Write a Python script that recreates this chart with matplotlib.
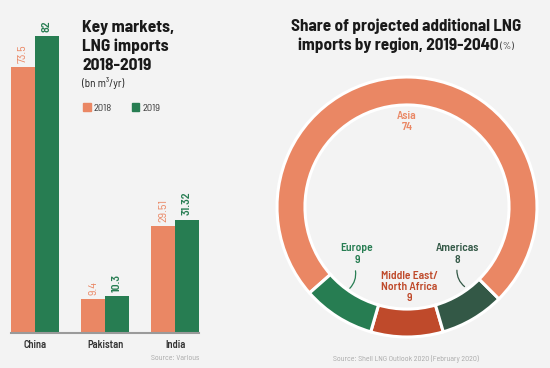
import matplotlib
matplotlib.use('Agg')
import matplotlib.pyplot as plt
import numpy as np
from matplotlib.patches import Patch

# data
countries = ['China', 'Pakistan', 'India']
imports_2018 = [73.5, 9.4, 29.51]
imports_2019 = [82, 10.3, 31.32]
labels_2018 = ['73.5', '9.4', '29.51']
labels_2019 = ['82', '10.3', '31.32']

regions = ['Middle East/\nNorth Africa', 'Americas', 'Asia', 'Europe']
shares = [9, 8, 74, 9]

BG = '#f3f3f3'
ORANGE = '#ea8764'
GREEN = '#277d52'
RED = '#bf4a2b'
DKGREEN = '#335846'
GREY = '#a8a8a8'

plt.rcParams['font.family'] = ['Barlow Semi Condensed', 'DejaVu Sans']

W, H = 550, 368
fig = plt.figure(figsize=(5.5, 3.68), dpi=100, facecolor=BG)

def fx(x):
    return x / W

def fy(y):
    return 1 - y / H

# ---- bar chart (left)
ax = fig.add_axes([fx(11), fy(333), (199 - 11) / W, (333 - 7) / H])
ax.set_facecolor('none')
x = np.arange(len(countries))
w = 0.34
ax.bar(x - w / 2, imports_2018, w, color=ORANGE)
ax.bar(x + w / 2, imports_2019, w, color=GREEN)
for xi, v, l in zip(x, imports_2018, labels_2018):
    ax.annotate(l, (xi - w / 2, v), xytext=(0, 3), textcoords='offset points',
                rotation=90, ha='center', va='bottom', color=ORANGE, fontsize=8.5)
for xi, v, l in zip(x, imports_2019, labels_2019):
    ax.annotate(l, (xi + w / 2, v), xytext=(0, 3), textcoords='offset points',
                rotation=90, ha='center', va='bottom', color=GREEN, fontsize=8.5,
                fontweight='semibold')
ax.set_xlim(-w, len(countries) - 1 + w)
ax.set_ylim(0, 90)
ax.set_xticks(x, countries, fontsize=7.5, fontweight='semibold', color='#333333')
ax.set_yticks([])
ax.tick_params(axis='x', length=0, pad=5)
for s in ['top', 'right', 'left']:
    ax.spines[s].set_visible(False)
ax.spines['bottom'].set_color('#9a9a9a')
ax.spines['bottom'].set_linewidth(1.5)

fig.text(fx(82), fy(20), 'Key markets,\nLNG imports\n2018-2019', ha='left', va='top',
         fontsize=12.5, fontweight='bold', color='#1a1a1a', linespacing=1.3)
fig.text(fx(82), fy(83), '(bn m³/yr)', ha='left', va='center', fontsize=8,
         color='#222222')
handles = [Patch(color=ORANGE, label='2018'), Patch(color=GREEN, label='2019')]
fig.legend(handles=handles, loc='center left', bbox_to_anchor=(fx(74), fy(108)), ncol=2,
           frameon=False, fontsize=7.5, handlelength=0.7, handleheight=0.7,
           handletextpad=0.3, columnspacing=1.9, labelcolor='#333333')
fig.text(fx(199), fy(359), 'Source: Various', ha='right', va='center', fontsize=5.7,
         color=GREY)

# ---- donut (right)
cx, cy, r = 407, 207, 130
ax2 = fig.add_axes([fx(cx - r), fy(cy + r), 2 * r / W, 2 * r / H])
start = 270 - shares[0] / sum(shares) * 360 / 2
ax2.pie(shares, colors=[RED, DKGREEN, ORANGE, GREEN], startangle=start, radius=1,
        counterclock=True,
        wedgeprops=dict(width=0.215, edgecolor='white', linewidth=2.2))
ax2.set_xlim(-1, 1)
ax2.set_ylim(-1, 1)
ax2.set_aspect('equal')
ax2.axis('off')

lab = dict(ha='center', va='center', fontsize=8.3, fontweight='semibold', linespacing=1.15)
ax2.text(0, 0.66, 'Asia\n74', color=ORANGE, **lab)
ax2.text(-0.385, -0.362, 'Europe\n9', color=GREEN, **lab)
ax2.text(0.385, -0.362, 'Americas\n8', color=DKGREEN, **lab)
ax2.text(0.02, -0.615, 'Middle East/\nNorth Africa\n9', color=RED, **lab)
ax2.annotate('', xy=(-0.455, -0.64), xytext=(-0.40, -0.47),
             arrowprops=dict(arrowstyle='-', color=GREEN, lw=0.9,
                             connectionstyle='arc3,rad=-0.3'))
ax2.annotate('', xy=(0.46, -0.625), xytext=(0.385, -0.465),
             arrowprops=dict(arrowstyle='-', color=DKGREEN, lw=0.9,
                             connectionstyle='arc3,rad=0.3'))

# title with smaller "(%)" on the second line
fig.text(fx(406), fy(26), 'Share of projected additional LNG', ha='center', va='center',
         fontsize=12.3, fontweight='bold', color='#1a1a1a')
renderer = fig.canvas.get_renderer()
t2 = fig.text(0, fy(45), 'imports by region, 2019-2040', ha='left', va='center',
              fontsize=12.3, fontweight='bold', color='#1a1a1a')
t3 = fig.text(0, fy(46), ' (%)', ha='left', va='center', fontsize=7.5, color='#333333')
w2 = t2.get_window_extent(renderer).width
w3 = t3.get_window_extent(renderer).width
left = 406 - (w2 + w3) / 2
t2.set_x(fx(left))
t3.set_x(fx(left + w2))

fig.text(fx(406), fy(359), 'Source: Shell LNG Outlook 2020 (February 2020)', ha='center',
         va='center', fontsize=5.7, color=GREY)

fig.savefig('out.png', dpi=100, facecolor=BG)
